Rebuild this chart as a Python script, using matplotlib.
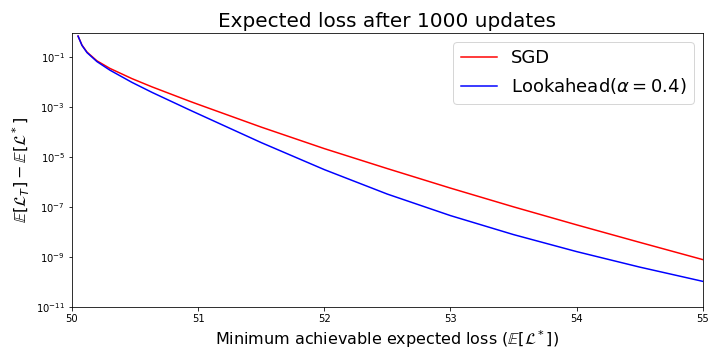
import matplotlib
matplotlib.use('Agg')
import matplotlib.pyplot as plt
import numpy as np

# minimum achievable expected loss (x) and log10 of excess loss
x_vals = [50.048, 50.079, 50.119, 50.198, 50.30, 50.475, 50.634, 50.935,
          51.0, 51.5, 52.0, 52.5, 53.0, 53.5, 54.0, 54.5, 55.0]
sgd_log = [-0.16, -0.52, -0.80, -1.15, -1.45, -1.86, -2.19, -2.77,
           -2.89, -3.80, -4.66, -5.46, -6.24, -6.99, -7.71, -8.41, -9.10]
la_log = [-0.16, -0.53, -0.82, -1.18, -1.52, -2.01, -2.41, -3.12,
          -3.27, -4.42, -5.50, -6.48, -7.34, -8.10, -8.78, -9.40, -9.97]


def main():
    x = np.array(x_vals)
    sgd = 10 ** np.array(sgd_log)
    la = 10 ** np.array(la_log)

    fig, ax = plt.subplots(figsize=(10, 5), dpi=72)
    fig.subplots_adjust(left=0.1, right=0.976, bottom=0.147, top=0.908)
    ax.plot(x, sgd, 'r', lw=1.5, label='SGD')
    ax.plot(x, la, 'b', lw=1.5, label=r'Lookahead($\alpha = 0.4$)')
    ax.set_yscale('log')
    ax.set_xlim(50, 55)
    ax.set_ylim(1e-11, 10 ** -0.04)
    ax.set_yticks([1e-11, 1e-9, 1e-7, 1e-5, 1e-3, 1e-1])
    ax.minorticks_off()
    ax.tick_params(labelsize=10)
    ax.set_xlabel(r'Minimum achievable expected loss ($\mathbb{E}[\mathcal{L}^*]$)', fontsize=16)
    ax.set_ylabel(r'$\mathbb{E}[\mathcal{L}_T] - \mathbb{E}[\mathcal{L}^*]$', fontsize=16)
    ax.set_title('Expected loss after 1000 updates', fontsize=20)
    ax.legend(loc='upper right', fontsize=18)
    fig.savefig('out.png')


if __name__ == '__main__':
    main()
